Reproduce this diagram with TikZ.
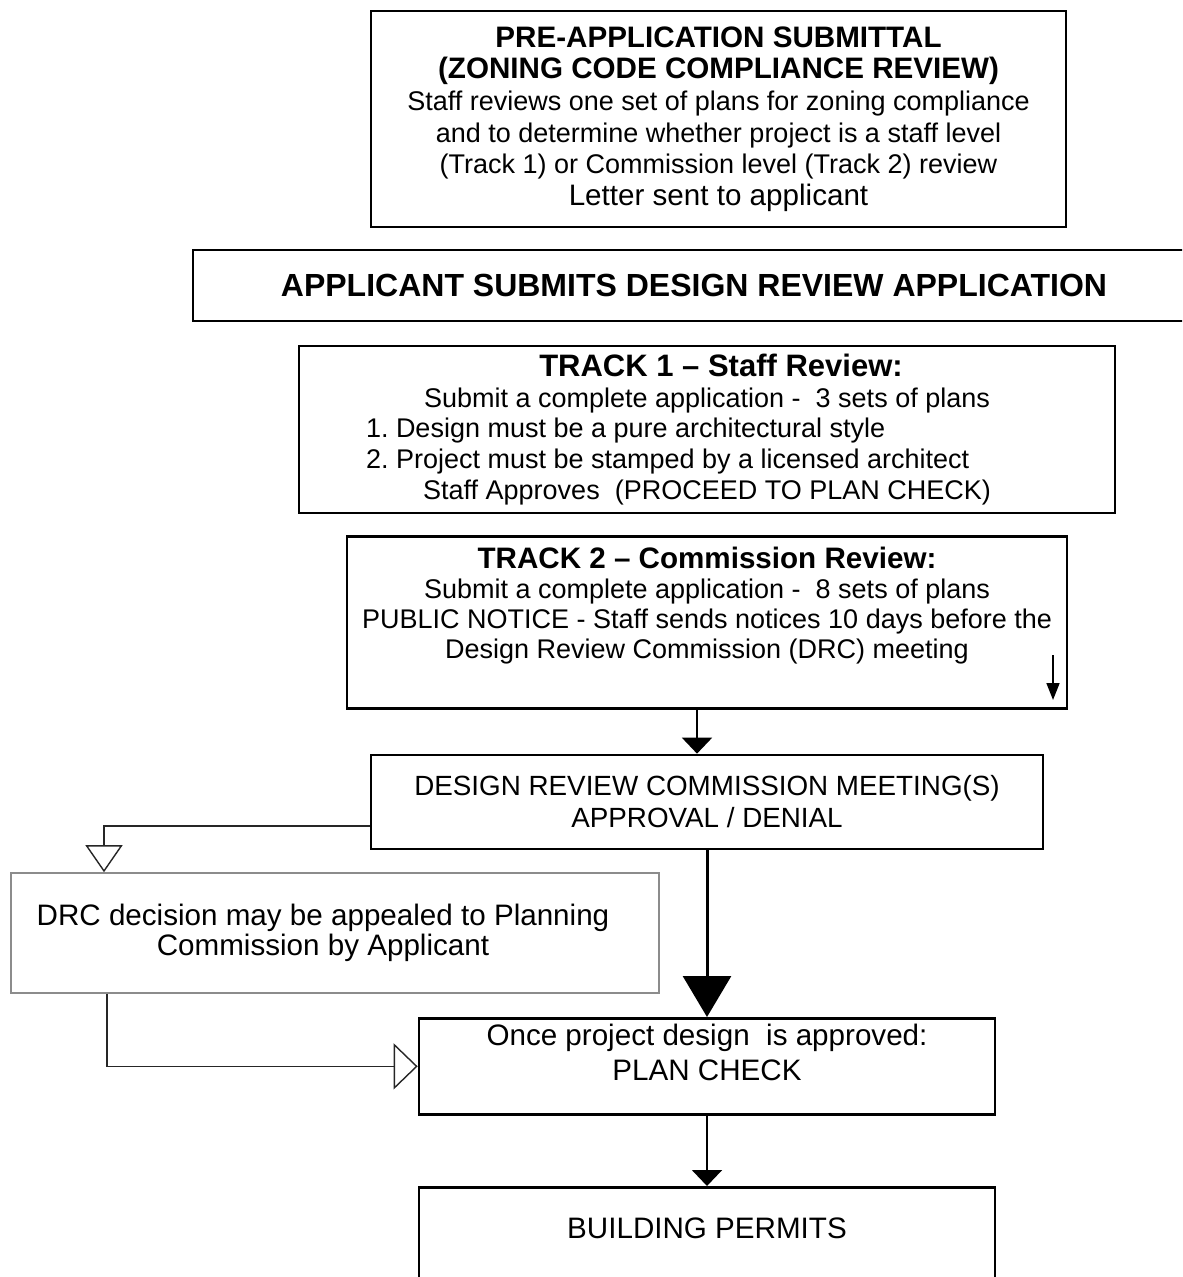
\documentclass[tikz,border=0pt]{standalone}
\usepackage{fontspec}
\setmainfont{Liberation Sans}
\usetikzlibrary{arrows.meta}
\frenchspacing

\newcommand{\boxhead}[1]{{\bfseries\fontsize{14.8}{16}\selectfont #1}}
\newcommand{\bigline}[1]{{\fontsize{14.8}{16}\selectfont #1}}

\begin{document}
\begin{tikzpicture}[x=0.5pt,y=-0.5pt,
  box/.style={draw,line width=1.35pt,inner sep=0pt,align=center,
              font=\fontsize{13.5}{15.8}\selectfont},
  appealbox/.style={draw=black!45,line width=0.8pt,inner sep=0pt,align=center,
              font=\fontsize{14.8}{15}\selectfont},
  flow/.style={line width=1pt,-{Triangle[length=8pt,width=15pt]}},
  bigflow/.style={line width=1.5pt,-{Triangle[length=20.5pt,width=24pt]}},
  openflow/.style={black!85,line width=0.7pt},
]
\useasboundingbox (0,0) rectangle (1182,1277);
\clip (0,0) rectangle (1182,1277);
\fill[white] (0,0) rectangle (1182,1277);

% pre-application step
\node[box,minimum width=347.5pt,minimum height=108pt] (preapp) at (718.5,119) {
  \boxhead{PRE-APPLICATION SUBMITTAL}\\
  \boxhead{(ZONING CODE COMPLIANCE REVIEW)}\\
  Staff reviews one set of plans for zoning compliance\\
  and to determine whether project is a staff level\\
  (Track 1) or Commission level (Track 2) review\\
  \bigline{Letter sent to applicant}
};
% submittal bar, runs off the right edge
\node[box,minimum width=501pt,minimum height=35.5pt,
      font=\bfseries\fontsize{16}{18}\selectfont] (submit) at (694,285.5)
  {APPLICANT SUBMITS DESIGN REVIEW APPLICATION};
% track 1 --- staff level
\node[box,minimum width=408pt,minimum height=83.5pt,
      font=\fontsize{13.5}{15.4}\selectfont] (track1) at (707,429.5) {
  {\bfseries\fontsize{15.5}{16}\selectfont\hspace*{14pt}TRACK 1 -- Staff Review:}\\
  Submit a complete application -~ 3 sets of plans\\
  \makebox[341pt][l]{1. Design must be a pure architectural style}\\
  \makebox[341pt][l]{2. Project must be stamped by a licensed architect}\\
  Staff Approves~ (PROCEED TO PLAN CHECK)
};
% track 2 --- commission level, text sits at the top
\node[box,anchor=north,font=\fontsize{13.5}{15}\selectfont] (track2) at (707,535)
  {\parbox[c][86pt][t]{360pt}{\centering
    \rule{0pt}{16.3pt}\boxhead{TRACK 2 -- Commission Review:}\\
    Submit a complete application -~ 8 sets of plans\\
    PUBLIC NOTICE - Staff sends notices 10 days before the\\
    Design Review Commission (DRC) meeting}};
\coordinate (notice top) at (1053,655);
\coordinate (notice end) at (1053,700);
\draw[line width=0.8pt,-{Triangle[length=8.5pt,width=6.5pt]}] (notice top) -- (notice end);
% commission meeting
\node[box,minimum width=336pt,minimum height=47pt,
      font=\fontsize{13.9}{16}\selectfont] (drc) at (707,802) {
  DESIGN REVIEW COMMISSION MEETING(S)\\
  APPROVAL / DENIAL
};
% appeal
\node[appealbox,minimum width=324pt,minimum height=60pt] (appeal) at (335,933) {
  DRC decision may be appealed to Planning\hspace*{12pt}\\
  Commission by Applicant\hspace*{12pt}
};
% plan check and permits
\node[box,anchor=north,font=\fontsize{14.8}{17.5}\selectfont] (plan) at (707,1017)
  {\parbox[c][48pt][t]{288pt}{\centering\rule{0pt}{13.5pt}Once project design~ is approved:\\PLAN CHECK}};
\node[box,anchor=north,font=\fontsize{14.8}{17.5}\selectfont] (permits) at (707,1186)
  {\parbox[c][60pt][t]{288pt}{\centering\rule{0pt}{25.8pt}BUILDING PERMITS}};

% connectors
\draw[flow] ([xshift=-5pt]track2.south) -- ([xshift=-5pt]drc.north);
\draw[bigflow] (drc.south) -- (plan.north);
\draw[flow] (plan.south) -- (permits.north);
\draw[openflow,-{Triangle[open,length=13.5pt,width=18.5pt]}]
  ([yshift=-12pt]drc.west) -| ([xshift=-115.5pt]appeal.north);
\draw[openflow,-{Triangle[open,length=12pt,width=23pt]}]
  ([xshift=-114pt]appeal.south) |- (plan.west);
\end{tikzpicture}
\end{document}
